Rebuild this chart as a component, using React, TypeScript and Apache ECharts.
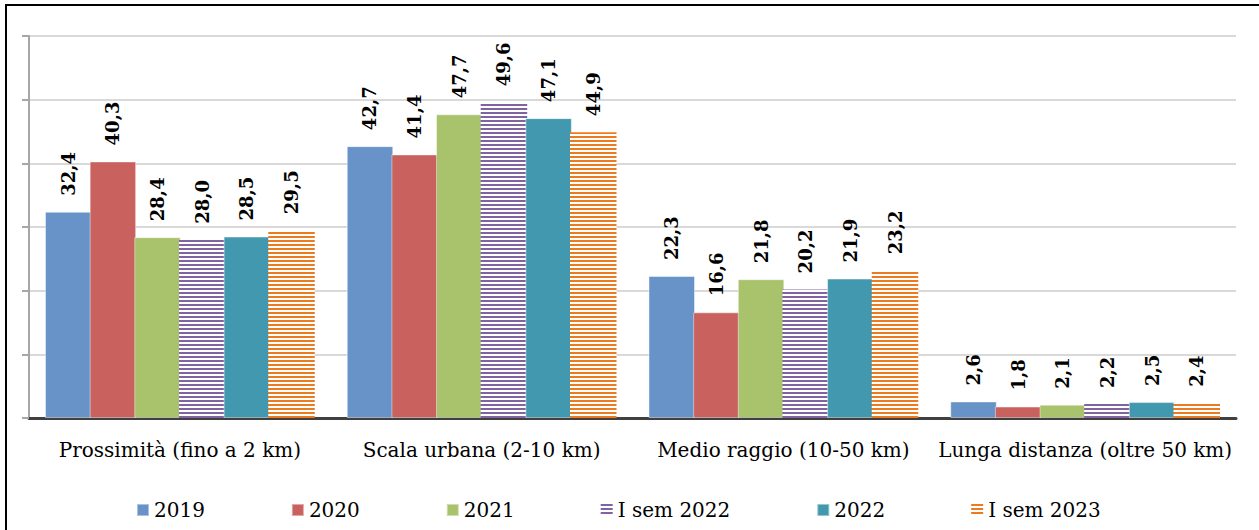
import React, { useEffect, useRef } from "react";
import * as echarts from "echarts";

const categories = [
  "Prossimità (fino a 2 km)",
  "Scala urbana (2-10 km)",
  "Medio raggio (10-50 km)",
  "Lunga distanza (oltre 50 km)",
];
const seriesNames = ["2019", "2020", "2021", "I sem 2022", "2022", "I sem 2023"];
const v2019 = [32.4, 42.7, 22.3, 2.6];
const v2020 = [40.3, 41.4, 16.6, 1.8];
const v2021 = [28.4, 47.7, 21.8, 2.1];
const vISem2022 = [28.0, 49.6, 20.2, 2.2];
const v2022 = [28.5, 47.1, 21.9, 2.5];
const vISem2023 = [29.5, 44.9, 23.2, 2.4];
const seriesValues = [v2019, v2020, v2021, vISem2022, v2022, vISem2023];
const colors = ["#6793c8", "#c9625f", "#a8c36c", "#8064a2", "#4298af", "#ec7a1f"];
const striped = [false, false, false, true, false, true];

function stripePattern(color: string) {
  const c = document.createElement("canvas");
  c.width = 4;
  c.height = 4;
  const ctx = c.getContext("2d")!;
  ctx.fillStyle = "#ffffff";
  ctx.fillRect(0, 0, 4, 4);
  ctx.fillStyle = color;
  ctx.fillRect(0, 0, 4, 2);
  return { image: c, repeat: "repeat" } as any;
}

export default function App() {
  const ref = useRef<HTMLDivElement>(null);
  useEffect(() => {
    if (!ref.current) return;
    const chart = echarts.init(ref.current, undefined, { renderer: "svg" });
    const series = seriesNames.map((name, i) => ({
      name,
      type: "bar",
      data: seriesValues[i],
      barGap: "-4%",
      barCategoryGap: "10.6%",
      itemStyle: {
        color: striped[i] ? stripePattern(colors[i]) : colors[i],
        borderColor: striped[i] ? "rgba(255,255,255,0)" : "rgba(255,255,255,0.45)",
        borderWidth: striped[i] ? 0 : 1,
      },
      label: {
        show: true,
        position: "top",
        rotate: 90,
        align: "left",
        verticalAlign: "middle",
        distance: 16,
        formatter: (p: any) => p.value.toFixed(1).replace(".", ","),
        fontFamily: "DejaVu Serif",
        fontWeight: "bold",
        fontSize: 18,
        color: "#000",
      },
    }));
    chart.setOption({
      animation: false,
      backgroundColor: "#ffffff",
      grid: { left: 29, right: 23, top: 36, bottom: 112, containLabel: false },
      graphic: [
        {
          type: "rect",
          shape: { x: 6, y: 5, width: 1300, height: 600 },
          style: { fill: "none", stroke: "#000", lineWidth: 2 },
          z: 100,
          silent: true,
        },
      ],
      legend: {
        bottom: 5,
        left: 131,
        itemWidth: 12,
        itemHeight: 12,
        itemGap: 86,
        icon: "rect",
        textStyle: { fontFamily: "DejaVu Serif", fontSize: 20, color: "#000" },
        data: seriesNames,
      },
      xAxis: {
        type: "category",
        data: categories,
        axisTick: { show: false },
        axisLine: { lineStyle: { color: "#404040", width: 3 } },
        axisLabel: {
          interval: 0,
          fontFamily: "DejaVu Serif",
          fontSize: 20,
          color: "#000",
          margin: 22,
        },
      },
      yAxis: {
        type: "value",
        min: 0,
        max: 60,
        interval: 10,
        axisLabel: { show: false },
        axisLine: { show: true, lineStyle: { color: "#a6a6a6", width: 2 } },
        axisTick: { show: true, length: 7, lineStyle: { color: "#a6a6a6", width: 2 } },
        splitLine: { lineStyle: { color: "#d9d9d9", width: 2 } },
      },
      series,
    });
    return () => chart.dispose();
  }, []);
  return (
    <div
      ref={ref}
      style={{ position: "fixed", left: 0, top: 0, width: 1259, height: 530, background: "#fff" }}
    />
  );
}
